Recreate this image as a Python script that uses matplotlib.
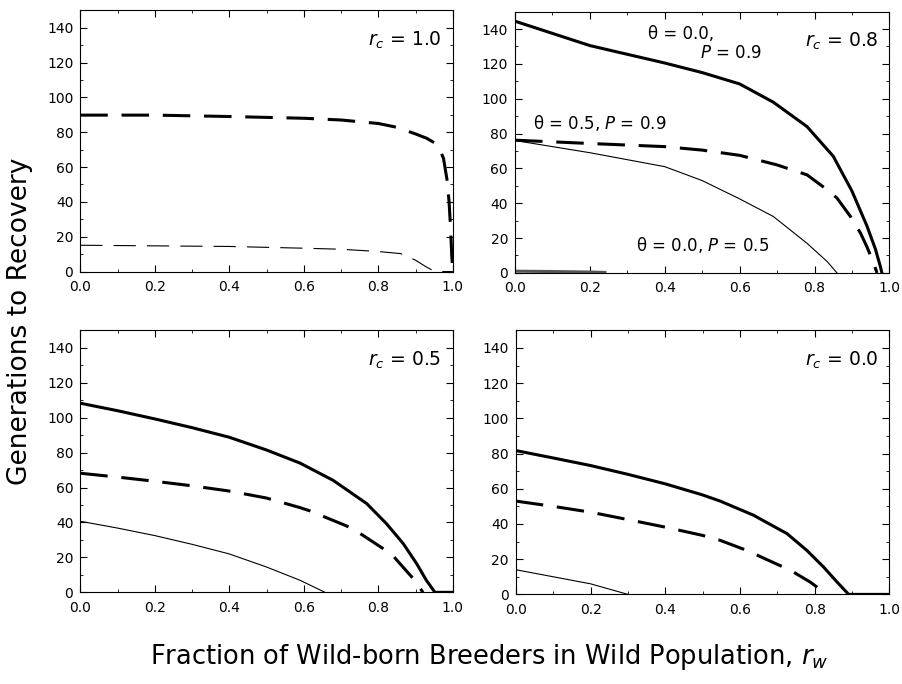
import matplotlib.pyplot as plt
from matplotlib.ticker import MultipleLocator

# values, per panel
# thick solid: theta = 0.0, P = 0.9 ; thick dashed: theta = 0.5, P = 0.9 ; thin: theta = 0.0, P = 0.5

# r_c = 1.0
x10_dash = [0.0, 0.2, 0.4, 0.6, 0.7, 0.8, 0.85, 0.9, 0.93, 0.95, 0.965, 0.975, 0.985, 0.99, 0.994, 0.997, 1.0]
y10_dash = [89.8, 89.8, 89.0, 88.0, 87.0, 85.0, 82.8, 79.0, 76.5, 74.0, 70.0, 65.0, 52.0, 40.0, 25.0, 10.0, 0.0]
x10_thin = [0.0, 0.4, 0.6, 0.7, 0.8, 0.86, 0.9, 0.93, 0.952, 1.0]
y10_thin = [15.1, 14.4, 13.4, 12.8, 11.5, 10.3, 6.5, 2.5, 0.0, 0.0]

# r_c = 0.8
x08_solid = [0.0, 0.1, 0.2, 0.3, 0.4, 0.5, 0.6, 0.69, 0.78, 0.85, 0.9, 0.94, 0.963, 0.976, 0.98]
y08_solid = [144.5, 137.5, 130.5, 125.5, 120.5, 115.0, 108.5, 98.0, 84.0, 67.0, 47.0, 27.0, 13.5, 3.6, 0.0]
x08_dash = [0.0, 0.2, 0.4, 0.5, 0.6, 0.7, 0.78, 0.834, 0.86, 0.896, 0.923, 0.94, 0.958, 0.967]
y08_dash = [76.2, 74.3, 72.5, 70.5, 67.5, 62.0, 56.3, 47.7, 43.0, 32.4, 22.8, 15.0, 5.6, 0.0]
x08_thin = [0.0, 0.1, 0.2, 0.3, 0.4, 0.5, 0.6, 0.69, 0.78, 0.834, 0.86]
y08_thin = [76.0, 72.5, 69.0, 65.0, 61.0, 53.0, 42.5, 32.4, 17.0, 6.5, 0.0]
x08_low = [0.0, 0.1, 0.2, 0.24]
y08_low = [1.0, 0.8, 0.5, 0.3]

# r_c = 0.5
x05_solid = [0.0, 0.1, 0.2, 0.3, 0.4, 0.5, 0.59, 0.679, 0.769, 0.822, 0.867, 0.903, 0.929, 0.952, 1.0]
y05_solid = [108.3, 104.0, 99.3, 94.3, 88.8, 81.5, 74.0, 64.1, 50.8, 39.3, 27.9, 16.4, 6.9, 0.0, 0.0]
x05_dash = [0.0, 0.1, 0.2, 0.3, 0.4, 0.5, 0.59, 0.617, 0.715, 0.742, 0.836, 0.862, 0.894, 0.92]
y05_dash = [68.2, 66.0, 63.6, 61.0, 58.0, 54.0, 48.5, 46.6, 38.0, 35.0, 21.8, 15.5, 7.8, 0.0]
x05_thin = [0.0, 0.1, 0.2, 0.3, 0.4, 0.5, 0.59, 0.657]
y05_thin = [40.7, 36.8, 32.5, 27.5, 22.0, 14.5, 6.9, 0.0]

# r_c = 0.0
x00_solid = [0.0, 0.1, 0.2, 0.3, 0.4, 0.5, 0.547, 0.636, 0.726, 0.779, 0.824, 0.86, 0.891, 1.0]
y00_solid = [81.7, 77.5, 73.2, 68.2, 62.8, 56.5, 53.0, 45.0, 34.5, 25.0, 15.5, 7.0, 0.0, 0.0]
x00_dash = [0.0, 0.1, 0.2, 0.3, 0.4, 0.5, 0.547, 0.618, 0.712, 0.739, 0.788, 0.833]
y00_dash = [53.0, 50.0, 46.7, 42.5, 38.2, 33.5, 30.7, 25.0, 15.9, 13.2, 7.0, 0.0]
x00_thin = [0.0, 0.2, 0.3]
y00_thin = [14.0, 6.0, 0.0]

panel_labels = ['$r_c$ = 1.0', '$r_c$ = 0.8', '$r_c$ = 0.5', '$r_c$ = 0.0']

plt.rcParams['font.family'] = 'DejaVu Sans'
plt.rcParams['mathtext.fontset'] = 'dejavusans'

fig = plt.figure(figsize=(9.02, 6.84), dpi=100)
ax_tl = fig.add_axes([0.089, 0.603, 0.413, 0.382])
ax_tr = fig.add_axes([0.571, 0.601, 0.415, 0.382])
ax_bl = fig.add_axes([0.089, 0.134, 0.413, 0.383])
ax_br = fig.add_axes([0.572, 0.131, 0.414, 0.386])
axes = [ax_tl, ax_tr, ax_bl, ax_br]

thick = 2.2
thin = 0.8
dash_thick = (9, 4.5)
dash_thin = (20, 10)

ax_tl.plot(x10_dash, y10_dash, color='black', lw=thick, dashes=dash_thick)
ax_tl.plot(x10_thin, y10_thin, color='black', lw=thin, dashes=dash_thin)

ax_tr.plot(x08_solid, y08_solid, color='black', lw=thick)
ax_tr.plot(x08_dash, y08_dash, color='black', lw=thick, dashes=dash_thick)
ax_tr.plot(x08_thin, y08_thin, color='black', lw=thin)
ax_tr.plot(x08_low, y08_low, color='#555555', lw=thick)

ax_bl.plot(x05_solid, y05_solid, color='black', lw=thick)
ax_bl.plot(x05_dash, y05_dash, color='black', lw=thick, dashes=dash_thick)
ax_bl.plot(x05_thin, y05_thin, color='black', lw=thin)

ax_br.plot(x00_solid, y00_solid, color='black', lw=thick)
ax_br.plot(x00_dash, y00_dash, color='black', lw=thick, dashes=dash_thick)
ax_br.plot(x00_thin, y00_thin, color='black', lw=thin)

for ax, lab in zip(axes, panel_labels):
    ax.set_xlim(0, 1.0)
    ax.set_ylim(0, 150)
    ax.xaxis.set_major_locator(MultipleLocator(0.2))
    ax.xaxis.set_minor_locator(MultipleLocator(0.1))
    ax.yaxis.set_major_locator(MultipleLocator(20))
    ax.yaxis.set_minor_locator(MultipleLocator(10))
    ax.set_xticklabels([f'{v:.1f}' for v in ax.get_xticks()])
    ax.tick_params(which='both', direction='in', top=True, right=True,
                   labelsize=10, colors='black')
    ax.tick_params(which='major', length=5, width=0.8)
    ax.tick_params(which='minor', length=2.5, width=0.6)
    ax.tick_params(axis='x', pad=6)
    ax.tick_params(axis='y', pad=5)
    for sp in ax.spines.values():
        sp.set_linewidth(0.8)
    ax.text(0.97, 133, lab, fontsize=13.5, ha='right', va='center')

ax_tr.text(0.356, 137, 'θ = 0.0,', fontsize=12, ha='left', va='center')
ax_tr.text(0.493, 126, '$P$ = 0.9', fontsize=12, ha='left', va='center')
ax_tr.text(0.049, 86, 'θ = 0.5, $P$ = 0.9', fontsize=12, ha='left', va='center')
ax_tr.text(0.324, 16, 'θ = 0.0, $P$ = 0.5', fontsize=12, ha='left', va='center')

fig.text(0.022, 0.53, 'Generations to Recovery', rotation=90, fontsize=19,
         ha='center', va='center')
fig.text(0.542, 0.04, 'Fraction of Wild-born Breeders in Wild Population, $r_w$',
         fontsize=18.5, ha='center', va='center')

fig.savefig('out.png', dpi=100)
